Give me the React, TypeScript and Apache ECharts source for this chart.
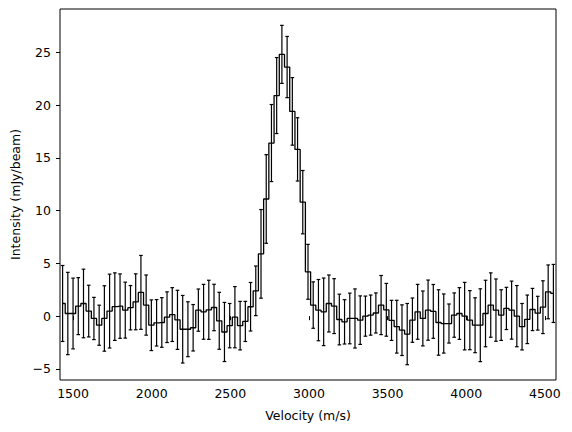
import React, { useEffect, useRef } from "react";
import * as echarts from "echarts";

// Channel velocities (m/s), bin centres
const velocity: number[] = [
  1433.6, 1466.8, 1500.0, 1533.2, 1566.4, 1599.6, 1632.8, 1666.0, 1699.2, 1732.4,
  1765.6, 1798.8, 1832.0, 1865.2, 1898.4, 1931.6, 1964.8, 1998.0, 2031.2, 2064.4,
  2097.6, 2130.8, 2164.0, 2197.2, 2230.4, 2263.6, 2296.8, 2330.0, 2363.2, 2396.4,
  2429.6, 2462.8, 2496.0, 2529.2, 2562.4, 2595.6, 2628.8, 2662.0, 2695.2, 2728.4,
  2761.6, 2794.8, 2828.0, 2861.2, 2894.4, 2927.6, 2960.8, 2994.0, 3027.2, 3060.4,
  3093.6, 3126.8, 3160.0, 3193.2, 3226.4, 3259.6, 3292.8, 3326.0, 3359.2, 3392.4,
  3425.6, 3458.8, 3492.0, 3525.2, 3558.4, 3591.6, 3624.8, 3658.0, 3691.2, 3724.4,
  3757.6, 3790.8, 3824.0, 3857.2, 3890.4, 3923.6, 3956.8, 3990.0, 4023.2, 4056.4,
  4089.6, 4122.8, 4156.0, 4189.2, 4222.4, 4255.6, 4288.8, 4322.0, 4355.2, 4388.4,
  4421.6, 4454.8, 4488.0, 4521.2, 4554.4,
];

// Intensity (mJy/beam)
const intensity: number[] = [
  1.2, 0.25, 0.25, 0.95, 1.2, 0.48, -0.22, -0.86, -0.22, 0.48,
  0.9, 0.95, 0.57, 0.8, 1.36, 2.25, 1.05, -0.86, -0.63, -0.6,
  -0.1, 0.15, -0.35, -1.24, -1.24, -1.1, 0.57, 0.41, 0.6, 0.82,
  -0.44, -1.5, -0.9, -0.1, -0.9, -0.5, 0.89, 2.4, 5.9, 11.1,
  16.4, 20.9, 24.8, 23.6, 19.4, 15.8, 10.8, 4.2, 1.05, 0.57,
  0.41, 1.2, 0.95, -0.32, -0.54, -0.22, -0.22, -0.38, 0.0, 0.1,
  0.3, 1.05, 0.6, -0.4, -1.0, -1.33, -1.7, -0.38, 0.41, -0.22,
  0.57, 0.45, -0.6, -0.7, -0.7, 0.1, 0.25, 0.0, -0.38, -0.86,
  -0.86, 0.25, 1.05, 0.57, 0.1, 0.73, 0.57, 0.0, -1.0, -0.3,
  0.63, 0.28, 0.85, 2.3, 2.15,
];

// 1-sigma uncertainties (mJy/beam)
const uncertainty: number[] = [
  3.6, 3.9, 3.35, 2.7, 3.25, 2.45, 2.0, 1.9, 3.1, 3.5,
  3.2, 3.05, 2.65, 2.1, 2.65, 3.5, 2.85, 2.4, 2.2, 2.35,
  2.4, 2.55, 2.8, 3.2, 2.6, 2.2, 2.0, 2.6, 2.8, 2.2,
  2.7, 2.8, 2.1, 2.9, 2.3, 1.9, 2.3, 2.35, 4.2, 4.2,
  3.65, 3.6, 2.75, 2.9, 3.2, 3.0, 3.0, 2.6, 2.2, 2.9,
  3.2, 2.7, 2.6, 2.4, 2.1, 2.4, 2.8, 2.3, 1.9, 1.9,
  1.9, 2.8, 2.5, 1.9, 2.5, 2.4, 2.9, 2.1, 2.6, 2.6,
  2.85, 2.55, 3.1, 2.8, 1.85, 2.1, 2.45, 3.2, 2.8, 2.6,
  3.45, 3.15, 3.05, 2.95, 2.4, 2.0, 2.75, 2.9, 2.2, 2.3,
  2.0, 1.6, 2.5, 2.55, 2.75,
];

const xTicks: number[] = [1500, 2000, 2500, 3000, 3500, 4000, 4500];
const yTicks: number[] = [-5, 0, 5, 10, 15, 20, 25];

const X_MIN = 1417;
const X_MAX = 4571;
const Y_MIN = -6.05;
const Y_MAX = 29.1;

export default function App() {
  const ref = useRef<HTMLDivElement>(null);

  useEffect(() => {
    if (!ref.current) return;
    const chart = echarts.init(ref.current, undefined, { renderer: "svg" });
    const font = "DejaVu Sans";
    const lineData = velocity.map((v, i) => [v, intensity[i]]);
    const errData = velocity.map((v, i) => [v, intensity[i], uncertainty[i]]);
    const fmt = (v: number) => (v < 0 ? "\u2212" + String(Math.abs(v)) : String(v));

    chart.setOption({
      animation: false,
      backgroundColor: "#ffffff",
      grid: {
        left: 60,
        right: 16,
        top: 9,
        bottom: 52,
        show: true,
        borderColor: "#000",
        borderWidth: 1,
        backgroundColor: "transparent",
      },
      xAxis: {
        type: "value",
        min: X_MIN,
        max: X_MAX,
        name: "Velocity (m/s)",
        nameLocation: "middle",
        nameGap: 29,
        nameTextStyle: { fontFamily: font, fontSize: 12.5, color: "#000" },
        axisLine: { show: false },
        splitLine: { show: false },
        axisTick: {
          show: true,
          length: 4,
          lineStyle: { color: "#000", width: 1 },
          customValues: xTicks,
        },
        axisLabel: {
          fontFamily: font,
          fontSize: 12.5,
          color: "#000",
          margin: 7,
          formatter: fmt,
          customValues: xTicks,
        },
      },
      yAxis: {
        type: "value",
        min: Y_MIN,
        max: Y_MAX,
        name: "Intensity (mJy/beam)",
        nameLocation: "middle",
        nameGap: 38,
        nameRotate: 90,
        nameTextStyle: { fontFamily: font, fontSize: 12.5, color: "#000" },
        axisLine: { show: false },
        splitLine: { show: false },
        axisTick: {
          show: true,
          length: 4,
          lineStyle: { color: "#000", width: 1 },
          customValues: yTicks,
        },
        axisLabel: {
          fontFamily: font,
          fontSize: 12.5,
          color: "#000",
          margin: 9,
          formatter: fmt,
          customValues: yTicks,
        },
      },
      series: [
        {
          type: "custom",
          clip: true,
          data: errData,
          renderItem: (params: any, api: any) => {
            const x = api.value(0);
            const y = api.value(1);
            const e = api.value(2);
            const top = api.coord([x, y + e]);
            const bot = api.coord([x, y - e]);
            const cw = 1.8;
            const style = { stroke: "#000", lineWidth: 1.2 };
            return {
              type: "group",
              children: [
                { type: "line", shape: { x1: top[0], y1: top[1], x2: bot[0], y2: bot[1] }, style },
                { type: "line", shape: { x1: top[0] - cw, y1: top[1], x2: top[0] + cw, y2: top[1] }, style },
                { type: "line", shape: { x1: bot[0] - cw, y1: bot[1], x2: bot[0] + cw, y2: bot[1] }, style },
              ],
            };
          },
          z: 2,
        },
        {
          type: "line",
          data: lineData,
          step: "middle",
          showSymbol: false,
          symbol: "none",
          clip: true,
          lineStyle: { color: "#000", width: 1.3 },
          z: 3,
        },
      ],
    });

    return () => chart.dispose();
  }, []);

  return (
    <div
      ref={ref}
      style={{ position: "absolute", left: 0, top: 0, width: 572, height: 432, background: "#fff" }}
    />
  );
}
